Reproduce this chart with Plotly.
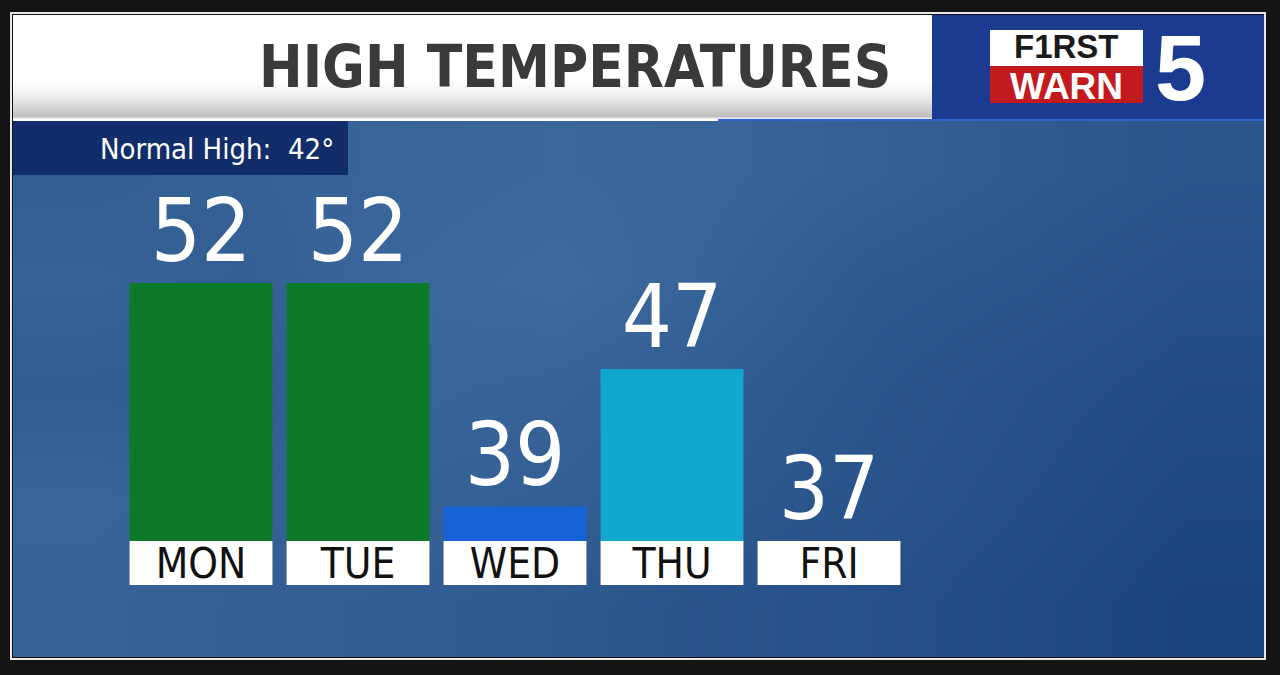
import plotly.graph_objects as go

# ---------------- data ----------------
days = ["MON", "TUE", "WED", "THU", "FRI"]
highs = [52, 52, 39, 47, 37]
bar_colors = ["#0c7a29", "#0c7a29", "#1563d6", "#0fa8cc", "#1f4f8a"]
baseline = 37
normal_high = 42
title_text = "HIGH TEMPERATURES"

# ---------------- geometry helpers (pixels -> paper) ----------------
W, H = 1280, 675
def fx(px):
    return px / W
def fy(py):
    return 1 - py / H

PX_PER_DEG = 17.2
BASE_PX = 541            # pixel row of the baseline
PLOT_TOP, PLOT_BOT = 180, 600
y_lo = baseline - (PLOT_BOT - BASE_PX) / PX_PER_DEG
y_hi = baseline + (BASE_PX - PLOT_TOP) / PX_PER_DEG
LABEL_BOX_PX = 44
label_h = LABEL_BOX_PX / PX_PER_DEG
label_base = baseline - label_h
label_text_y = label_base + label_h / 2 - 4 / PX_PER_DEG

COND = "DejaVu Sans Condensed, Liberation Sans Narrow, Roboto, sans-serif"
LOGO = "Liberation Sans, Arial, sans-serif"

fig = go.Figure()

# background texture (blue sky) on x/y
bg_z = [
    [0.55, 0.60, 0.66, 0.70, 0.66, 0.58, 0.48, 0.40],
    [0.62, 0.56, 0.70, 0.76, 0.62, 0.46, 0.40, 0.30],
    [0.52, 0.50, 0.66, 0.62, 0.52, 0.40, 0.30, 0.22],
    [0.66, 0.60, 0.60, 0.56, 0.46, 0.36, 0.26, 0.16],
    [0.62, 0.56, 0.52, 0.46, 0.36, 0.30, 0.20, 0.10],
]
fig.add_trace(go.Heatmap(z=bg_z, zsmooth="best", showscale=False, hoverinfo="skip",
                         colorscale=[[0, "#163f78"], [1, "#4a78ab"]], zmin=0, zmax=1,
                         xaxis="x", yaxis="y"))

# temperature bars
fig.add_trace(go.Bar(x=days, y=[h - baseline for h in highs], base=[baseline] * len(days),
                     marker=dict(color=bar_colors, line=dict(width=0)),
                     xaxis="x2", yaxis="y2", hoverinfo="skip"))
# day label boxes
fig.add_trace(go.Bar(x=days, y=[label_h] * len(days), base=[label_base] * len(days),
                     marker=dict(color="white", line=dict(width=0)),
                     xaxis="x2", yaxis="y2", hoverinfo="skip"))
# day label text
fig.add_trace(go.Scatter(x=days, y=[label_text_y] * len(days), mode="text",
                         text=days, textposition="middle center",
                         textfont=dict(family=COND, size=42, color="#111111"),
                         xaxis="x2", yaxis="y2", hoverinfo="skip", cliponaxis=False))
# value labels
fig.add_trace(go.Scatter(x=days, y=highs, mode="text", text=[str(h) for h in highs],
                         textposition="top center",
                         textfont=dict(family=COND, size=88, color="white"),
                         xaxis="x2", yaxis="y2", hoverinfo="skip", cliponaxis=False))

# title band gradient on x3/y3
tb_y = [15, 80, 90, 100, 110, 116, 118.5, 121]
tb_z = [[1, 1], [1, 1], [0.93, 0.93], [0.82, 0.82], [0.66, 0.66], [0.56, 0.56], [1, 1], [1, 1]]
fig.add_trace(go.Heatmap(z=tb_z, y=tb_y, x=[0, 1], zsmooth="best", showscale=False,
                         hoverinfo="skip", colorscale=[[0, "#6e6e6e"], [1, "#ffffff"]],
                         zmin=0, zmax=1, xaxis="x3", yaxis="y3"))

hidden = dict(visible=False, showgrid=False, zeroline=False, fixedrange=True)
fig.update_layout(
    width=W, height=H,
    margin=dict(l=0, r=0, t=0, b=0),
    paper_bgcolor="#141414", plot_bgcolor="rgba(0,0,0,0)",
    showlegend=False, barmode="overlay", bargap=0.09,
    xaxis=dict(domain=[fx(13), fx(1264)], **hidden),
    yaxis=dict(domain=[fy(657), fy(121)], autorange="reversed", **hidden),
    xaxis2=dict(domain=[fx(122.5), fx(907.5)], range=[-0.5, 4.5], anchor="y2", **hidden),
    yaxis2=dict(domain=[fy(PLOT_BOT), fy(PLOT_TOP)], range=[y_lo, y_hi], anchor="x2", **hidden),
    xaxis3=dict(domain=[fx(13), fx(932)], range=[0, 1], anchor="y3", **hidden),
    yaxis3=dict(domain=[fy(121), fy(15)], range=[121, 15], anchor="x3", **hidden),
)

shapes = []
# logo box
shapes.append(dict(type="rect", xref="paper", yref="paper", x0=fx(932), x1=fx(1264),
                   y0=fy(120), y1=fy(15), fillcolor="#1b3b90", line=dict(width=0), layer="above"))
shapes.append(dict(type="rect", xref="paper", yref="paper", x0=fx(990), x1=fx(1143),
                   y0=fy(66), y1=fy(30), fillcolor="#ffffff", line=dict(width=0), layer="above"))
shapes.append(dict(type="rect", xref="paper", yref="paper", x0=fx(990), x1=fx(1143),
                   y0=fy(103), y1=fy(66), fillcolor="#c21a1e", line=dict(width=0), layer="above"))
# separator lines under title
shapes.append(dict(type="line", xref="paper", yref="paper", x0=fx(13), x1=fx(718),
                   y0=fy(120), y1=fy(120), line=dict(color="#ffffff", width=2), layer="above"))
shapes.append(dict(type="line", xref="paper", yref="paper", x0=fx(718), x1=fx(1264),
                   y0=fy(120), y1=fy(120), line=dict(color="#2f63d0", width=2), layer="above"))
# normal high box
shapes.append(dict(type="rect", xref="paper", yref="paper", x0=fx(13), x1=fx(348),
                   y0=fy(175), y1=fy(121), fillcolor="#112d6a", line=dict(width=0), layer="above"))
# white frame
shapes.append(dict(type="rect", xref="paper", yref="paper", x0=fx(11), x1=fx(1265),
                   y0=fy(659), y1=fy(13), fillcolor="rgba(0,0,0,0)",
                   line=dict(color="#e8e8e8", width=2), layer="above"))
fig.update_layout(shapes=shapes)

annotations = [
    dict(text=f"<b>{title_text}</b>", xref="paper", yref="paper", x=fx(893), y=fy(67),
         xanchor="right", yanchor="middle", showarrow=False,
         font=dict(family=COND, size=58, color="#3a3a3a")),
    dict(text=f"Normal High:\u00a0\u00a0{normal_high}°", xref="paper", yref="paper",
         x=fx(336), y=fy(149), xanchor="right", yanchor="middle", showarrow=False,
         font=dict(family=COND, size=29, color="white")),
    dict(text="<b>F1RST</b>", xref="paper", yref="paper", x=fx(1066), y=fy(46),
         xanchor="center", yanchor="middle", showarrow=False,
         font=dict(family=LOGO, size=33, color="#1a1a1a")),
    dict(text="<b>WARN</b>", xref="paper", yref="paper", x=fx(1066), y=fy(86),
         xanchor="center", yanchor="middle", showarrow=False,
         font=dict(family=LOGO, size=37, color="white")),
    dict(text="<b>5</b>", xref="paper", yref="paper", x=fx(1180), y=fy(68),
         xanchor="center", yanchor="middle", showarrow=False,
         font=dict(family=LOGO, size=92, color="white")),
]
fig.update_layout(annotations=annotations)

fig.write_html("out.html", config={"displayModeBar": False},
               post_script="document.body.style.margin='0';document.body.style.padding='0';")
